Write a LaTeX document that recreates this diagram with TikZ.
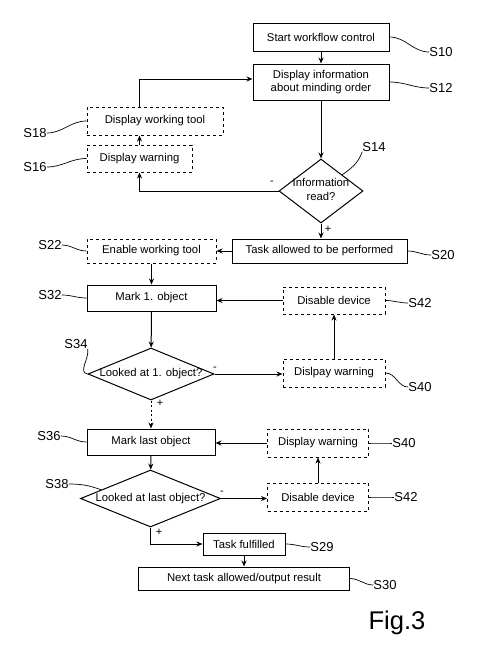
\documentclass[tikz,border=0pt]{standalone}
\usepackage{fontspec}
\setmainfont{Liberation Sans}
\usetikzlibrary{shapes.geometric, positioning, arrows.meta}

\tikzset{
    stepbox/.style={draw, rectangle, line width=1pt, inner sep=0pt, align=center,
        font=\fontsize{11.3}{13.5}\selectfont},
    optbox/.style={stepbox, dashed},
    decide/.style={draw, diamond, aspect=1, line width=1pt, inner sep=0pt,
        font=\fontsize{11.3}{13.5}\selectfont},
    steplabel/.style={inner sep=0pt, font=\fontsize{13}{13}\selectfont},
    sign/.style={inner sep=0pt, font=\fontsize{11}{11}\selectfont},
    flow/.style={->, line width=1pt},
    wiggle/.style={line width=0.7pt}
}

\begin{document}
\begin{tikzpicture}[>={Stealth[length=6pt, width=5pt]}, x=1pt, y=-1pt]

    \useasboundingbox (0,0) rectangle (499,662);

    % Define steps
    \node[stepbox, minimum width=136pt, minimum height=28pt] (s10) at (321,37) {Start workflow control};
    \node[stepbox, minimum width=136pt, minimum height=36pt] (s12) at (321,82) {Display information\\about minding order};
    \node[optbox, minimum width=136pt, minimum height=28pt] (s18) at (155,121) {Display working tool};
    \node[optbox, minimum width=105pt, minimum height=27pt] (s16) at (139.5,158.5) {Display warning};
    \node[decide, minimum width=84pt, minimum height=64pt] (s14) at (321,191)
        {\makebox[0pt]{\begin{tabular}{@{}c@{}}Information\\read?\end{tabular}}};
    \node[stepbox, minimum width=175pt, minimum height=24pt] (s20) at (319.5,251) {Task allowed to be performed};
    \node[optbox, minimum width=129pt, minimum height=24pt] (s22) at (151.5,251) {Enable working tool};
    \node[stepbox, minimum width=129pt, minimum height=26pt] (s32) at (151.5,298) {Mark 1. object};
    \node[optbox, minimum width=102pt, minimum height=27pt] (s42a) at (334,300.5) {Disable device};
    \node[decide, minimum width=126pt, minimum height=52pt] (s34) at (151,374)
        {\makebox[0pt]{Looked at 1. object?}};
    \node[optbox, minimum width=102pt, minimum height=28pt] (s40a) at (334,373) {Dislpay warning};
    \node[stepbox, minimum width=128pt, minimum height=26pt] (s36) at (151,442) {Mark last object};
    \node[optbox, minimum width=101pt, minimum height=28pt] (s40b) at (318,443) {Display warning};
    \node[decide, minimum width=140pt, minimum height=57pt] (s38) at (150.5,498.5)
        {\makebox[0pt]{Looked at last object?}};
    \node[optbox, minimum width=101pt, minimum height=28pt] (s42b) at (318,497) {Disable device};
    \node[stepbox, minimum width=82pt, minimum height=22pt] (s29) at (244,544) {Task fulfilled};
    \node[stepbox, minimum width=211pt, minimum height=23pt] (s30) at (244,578.5) {Next task allowed/output result};

    % Step labels
    \node[steplabel] (l10) at (441,52) {S10};
    \node[steplabel] (l12) at (441,88) {S12};
    \node[steplabel] (l18) at (35,133) {S18};
    \node[steplabel] (l16) at (35,167) {S16};
    \node[steplabel] (l14) at (374,147) {S14};
    \node[steplabel] (l22) at (50,245) {S22};
    \node[steplabel] (l20) at (443,255) {S20};
    \node[steplabel] (l32) at (50,295) {S32};
    \node[steplabel] (l42a) at (420,303) {S42};
    \node[steplabel] (l34) at (76,344) {S34};
    \node[steplabel] (l40a) at (420,387) {S40};
    \node[steplabel] (l36) at (49,436) {S36};
    \node[steplabel] (l40b) at (404,443) {S40};
    \node[steplabel] (l38) at (57,484) {S38};
    \node[steplabel] (l42b) at (406,497) {S42};
    \node[steplabel] (l29) at (322,547) {S29};
    \node[steplabel] (l30) at (385,585) {S30};

    \node[inner sep=0pt, font=\fontsize{25.6}{25.6}\selectfont] (fig) at (397,623) {Fig.3};

    % Branch signs
    \node[sign] (m14) at (272,183) {-};
    \node[sign] (p14) at (328,229) {+};
    \node[sign] (m34) at (215,369) {-};
    \node[sign] (p34) at (160,403) {+};
    \node[sign] (m38) at (222,493) {-};
    \node[sign] (p38) at (159,532) {+};

    % Label leaders
    \draw[wiggle] (s10.east) to[out=0, in=180] (l10.west);
    \draw[wiggle] (s12.east) to[out=0, in=180] (l12.west);
    \draw[wiggle] (l18.east) to[out=0, in=180] (s18.west);
    \draw[wiggle] (l16.east) to[out=0, in=180] (s16.west);
    \draw[wiggle] (l14.south west) to[out=-110, in=35] (s14.north east);
    \draw[wiggle] (l22.east) to[out=0, in=180] (s22.west);
    \draw[wiggle] (s20.east) to[out=0, in=180] (l20.west);
    \draw[wiggle] (l32.east) to[out=0, in=180] (s32.west);
    \draw[wiggle] (s42a.east) to[out=0, in=180] (l42a.west);
    \draw[wiggle] (l34.south east) to[out=-80, in=170] (s34.west);
    \draw[wiggle] (s40a.east) to[out=0, in=180] (l40a.west);
    \draw[wiggle] (l36.east) to[out=0, in=180] (s36.west);
    \draw[wiggle] (s40b.east) to[out=0, in=180] (l40b.west);
    \draw[wiggle] (l38.east) to[out=0, in=160] (s38.170);
    \draw[wiggle] (s42b.east) to[out=0, in=180] (l42b.west);
    \draw[wiggle] (s29.east) to[out=0, in=180] (l29.west);
    \draw[wiggle] (s30.east) to[out=0, in=180] (l30.west);

    % Transitions
    \draw[flow] (s10) -- (s12);
    \draw[flow] (s12) -- (s14);
    \draw[flow] (s14.west) -| (s16.south);
    \draw[flow] (s16.north) -- (s16.north |- s18.south);
    \draw[flow] (s16.north |- s18.north) |- ([yshift=3pt]s12.west);
    \draw[flow] (s14.south) -- (s14.south |- s20.north);
    \draw[flow] (s20) -- (s22);
    \draw[flow] (s22) -- (s32);
    \draw[flow] (s42a.west) -- (s42a.west -| s32.east);
    \draw[flow] (s32) -- (s34);
    \draw[flow] (s34.east) -- (s34.east -| s40a.west);
    \draw[flow] (s40a) -- (s42a);
    \draw[flow, dash pattern=on 2pt off 2.5pt] (s34) -- (s36);
    \draw[flow] (s40b.west) -- (s40b.west -| s36.east);
    \draw[flow] (s36) -- (s38);
    \draw[flow] (s38.east) -- (s38.east -| s42b.west);
    \draw[flow] (s42b) -- (s40b);
    \draw[flow] (s38.south) |- (s29.west);
    \draw[flow] (s29) -- (s30);

\end{tikzpicture}
\end{document}
